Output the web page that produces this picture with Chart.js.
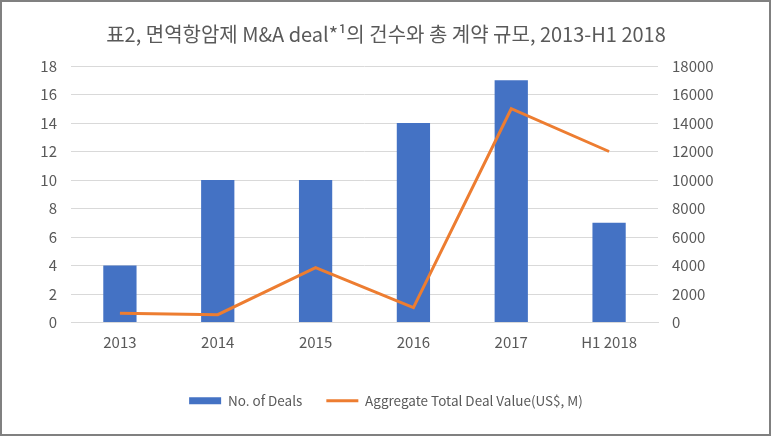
<!DOCTYPE html>
<html>
<head>
<meta charset="utf-8">
<script src="https://cdn.jsdelivr.net/npm/chart.js@4"></script>
<style>
    body { margin: 0; background: #fff; }
    #wrap { position: relative; width: 772px; height: 438px; }
    #cadre {
        position: absolute; left: 0; top: 0; width: 771px; height: 436px;
        box-sizing: border-box; border: 2px solid #808080; pointer-events: none;
    }
</style>
</head>
<body>
<div id="wrap">
    <canvas id="graphiqueDeals" width="772" height="438"></canvas>
    <div id="cadre"></div>
</div>
<script>
const annees = ["2013", "2014", "2015", "2016", "2017", "H1 2018"];
const nbDeals = [4, 10, 10, 14, 17, 7];
const valeurTotale = [650, 550, 3850, 1050, 15000, 12000];
const ticksGauche = [0, 2, 4, 6, 8, 10, 12, 14, 16, 18];
const ticksDroite = [0, 2000, 4000, 6000, 8000, 10000, 12000, 14000, 16000, 18000];

const gris = "#595959";
Chart.defaults.font.family = '"Noto Sans CJK KR", "Noto Sans", sans-serif';
Chart.defaults.color = gris;

const ctx = document.getElementById("graphiqueDeals");
new Chart(ctx, {
    type: "bar",
    data: {
        labels: annees,
        datasets: [{
            label: "No. of Deals",
            data: nbDeals,
            backgroundColor: "#4472C4",
            borderWidth: 0,
            pointStyle: "rect",
            barPercentage: 0.34,
            categoryPercentage: 1,
            yAxisID: "y",
            order: 1
        }, {
            type: "line",
            label: "Aggregate Total Deal Value(US$, M)",
            data: valeurTotale,
            borderColor: "#ED7D31",
            backgroundColor: "#ED7D31",
            borderWidth: 3,
            pointRadius: 0,
            pointStyle: "line",
            tension: 0,
            yAxisID: "y1",
            order: 0
        }]
    },
    options: {
        responsive: false,
        animation: false,
        devicePixelRatio: 1,
        layout: { padding: { left: 0, right: 0, top: 0, bottom: 20.5 } },
        plugins: {
            title: {
                display: true,
                text: "표2, 면역항암제 M&A deal*¹의 건수와 총 계약 규모, 2013-H1 2018",
                color: gris,
                font: { size: 20, weight: "normal" },
                padding: { top: 22.5, bottom: 19.5 }
            },
            legend: {
                position: "bottom",
                labels: {
                    usePointStyle: true,
                    pointStyleWidth: 32,
                    boxHeight: 7,
                    padding: 24,
                    color: gris,
                    font: { size: 13.5 },
                    sort: (a, b) => a.datasetIndex - b.datasetIndex
                }
            },
            tooltip: { enabled: false }
        },
        scales: {
            x: {
                grid: { display: false },
                border: { color: "#D9D9D9" },
                ticks: { padding: 3, font: { size: 15 } },
                afterFit: (scale) => { scale.height = 47.5; }
            },
            y: {
                position: "left",
                min: 0,
                max: 18,
                afterBuildTicks: (scale) => { scale.ticks = ticksGauche.map(v => ({ value: v })); },
                grid: { color: "#D9D9D9", drawTicks: false },
                border: { display: false },
                ticks: { padding: 14, font: { size: 15 } },
                afterFit: (scale) => { scale.width = 71; }
            },
            y1: {
                position: "right",
                min: 0,
                max: 18000,
                afterBuildTicks: (scale) => { scale.ticks = ticksDroite.map(v => ({ value: v })); },
                grid: { drawOnChartArea: false, drawTicks: false },
                border: { display: false },
                ticks: { padding: 14, font: { size: 15 }, callback: (v) => String(v) },
                afterFit: (scale) => { scale.width = 114; }
            }
        }
    }
});
</script>
</body>
</html>
